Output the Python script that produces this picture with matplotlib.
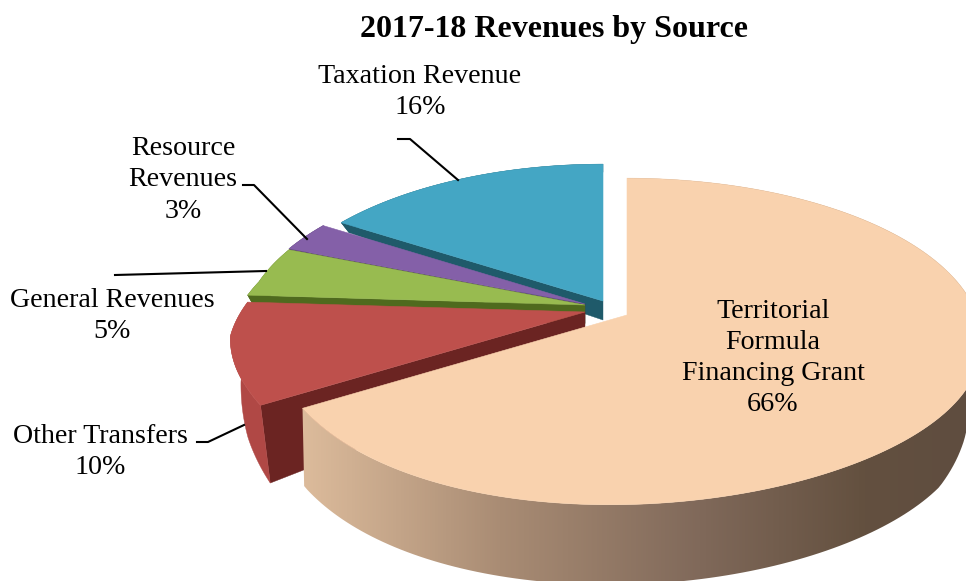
import numpy as np
import matplotlib
matplotlib.use('Agg')
import matplotlib.pyplot as plt
from matplotlib.colors import LinearSegmentedColormap
from matplotlib.patches import Polygon

title = '2017-18 Revenues by Source'
names = ['Territorial\nFormula\nFinancing Grant', 'Other Transfers', 'General Revenues', 'Resource\nRevenues', 'Taxation Revenue']
values = [66, 10, 5, 3, 16]

top_colors = ['#F9D2AE', '#BE504C', '#98BB50', '#8460A8', '#44A6C4']
wall_colors = ['#A98C74', '#B04845', '#4F6A1E', '#3F2A5C', '#1F5A6A']
cut_colors = ['#F9D2AE', '#6B2422', '#4F6A1E', '#3F2A5C', '#1F5A6A']
# slice centres in pixels, the pie is exploded
centers = [(627, 315), (585, 312), (585, 305), (585, 304), (603, 301)]

plt.rcParams['font.family'] = ['Liberation Serif', 'DejaVu Serif']

fig = plt.figure(figsize=(9.66, 5.81), dpi=100)
ax = fig.add_axes([0, 0, 1, 1])

RX, RY, K = 350, 159, 0.162


def wall_height(v):
    return np.interp(v, [-1, -0.54, -0.35, -0.15, 0, 0.54, 1], [80, 78, 66, 45, 19, 10, 8])


def project(center, r, theta):
    # theta clockwise from 12 o'clock, simple perspective on the disc
    u = r * np.sin(theta)
    v = r * np.cos(theta)
    w = 1 + K * v
    x = center[0] + RX * u / w
    x = x - 17 * (np.clip(-v - 0.4, 0, None) / 0.6) ** 2
    x = x + 12 * np.clip(-u, 0, 1) * np.clip((v + 0.15) / 0.3, 0, 1)
    y = center[1] - RY * v / w
    return x, y, v


def draw_slice(i, start, end):
    c = centers[i]
    th = np.linspace(start, end, 200)
    x, y, v = project(c, 1.0, th)
    # the big slice has an almost straight wall on its left end
    lean = np.where(x > c[0], 0.03, 0.005) if i == 0 else 0.03
    xb = x + (c[0] - x) * lean
    yb = y + wall_height(v)

    # cut face on the front side of the slice
    if i > 0:
        rs = np.linspace(0, 1, 12)
        xc, yc, vc = project(c, rs, start * np.ones(12))
        xcb = xc + (c[0] - xc) * 0.03
        ax.fill(np.r_[xc, xcb[::-1]], np.r_[yc, (yc + wall_height(vc))[::-1]], color=cut_colors[i], lw=0.3)

    # outer wall
    wall_x = np.r_[x, xb[::-1]]
    wall_y = np.r_[y, yb[::-1]]
    if i == 0:
        cmap = LinearSegmentedColormap.from_list('wall', [(0, '#DDBC9C'), (0.3, '#A98C74'), (0.6, '#80695A'), (0.85, '#63503F'), (1, '#5F4D40')])
        grad = np.linspace(0, 1, 512).reshape(1, -1)
        im = ax.imshow(grad, extent=[300, 966, 581, 0], cmap=cmap, aspect='auto', zorder=1)
        im.set_clip_path(Polygon(np.c_[wall_x, wall_y], transform=ax.transData))
    else:
        ax.fill(wall_x, wall_y, color=wall_colors[i], lw=0.3)

    # top face
    ax.fill(np.r_[c[0], x], np.r_[c[1], y], color=top_colors[i], lw=0.4)


ends = np.cumsum(values) / sum(values) * 2 * np.pi
starts = np.r_[0, ends[:-1]]

# back slices first, the big one goes last
for i in [4, 3, 2, 1, 0]:
    draw_slice(i, starts[i], ends[i])

ax.set_xlim(0, 966)
ax.set_ylim(581, 0)
ax.axis('off')

ax.text(554, 29, title, ha='center', va='center', fontsize=23, fontweight='bold')

label_pos = [(773, 358), (100, 452), (112, 316), (183, 180), (420, 92)]
for i, name in enumerate(names):
    ax.text(label_pos[i][0], label_pos[i][1], name + '\n' + str(values[i]) + '%', ha='center', va='center',
            fontsize=20.2, linespacing=1.33, zorder=10)

leaders = [([398, 410, 458], [139, 139, 180]),
           ([243, 254, 307], [185, 185, 239]),
           ([115, 266], [275, 271]),
           ([197, 208, 244], [442, 442, 425])]
for lx, ly in leaders:
    ax.plot(lx, ly, color='black', lw=1.5, zorder=1)

fig.savefig('out.png', dpi=100)
